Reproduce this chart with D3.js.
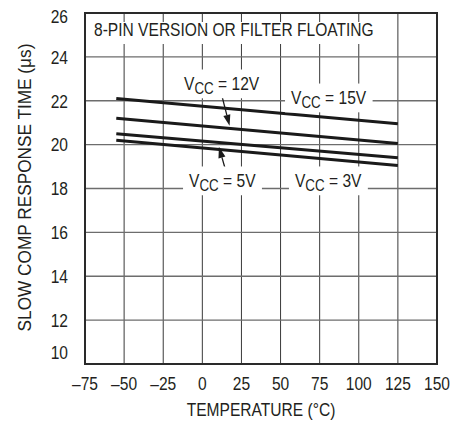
<!DOCTYPE html>
<html><head><meta charset="utf-8">
<script src="https://cdn.jsdelivr.net/npm/d3@7"></script>
<style>
body{margin:0;background:#fff;}
text{font-family:"Liberation Sans Narrow","Liberation Sans",Arial,sans-serif;fill:#231f20;}
</style></head><body>
<svg id="c" width="465" height="423"></svg>
<script>
// ---- data ----
const temps = [-55, 125];
const vcc15 = [22.1, 20.95];
const vcc12 = [21.2, 20.05];
const vcc5  = [20.5, 19.4];
const vcc3  = [20.2, 19.05];
const seriesNames = ["15V", "12V", "5V", "3V"];
const xTicks = [-75, -50, -25, 0, 25, 50, 75, 100, 125, 150];
const yTicks = [10, 12, 14, 16, 18, 20, 22, 24, 26];
const chartTitle = "8-PIN VERSION OR FILTER FLOATING";
const xTitle = "TEMPERATURE (°C)";
const yTitle = "SLOW COMP RESPONSE TIME (μs)";

const svg = d3.select("#c");
const m = {l:85, t:13, r:28, b:59};
const W = 465 - m.l - m.r, H = 423 - m.t - m.b;
const x = d3.scaleLinear().domain([-75,150]).range([m.l, m.l+W]);
const y = d3.scaleLinear().domain([10,26]).range([m.t+H, m.t]);
const FS = 19;
const SX = 0.82; // condensed look

// horizontal condense around an anchor x
function narrowAt(sel, ax, ay){
  sel.attr("transform", `translate(${ax},${ay}) scale(${SX},1)`);
}

// grid
const g = svg.append("g");
g.selectAll(".vg").data(xTicks.slice(1,-1)).join("line")
  .attr("x1",d=>x(d)).attr("x2",d=>x(d)).attr("y1",y(26)).attr("y2",y(10))
  .attr("stroke","#3a3a3a").attr("stroke-width",1);
g.selectAll(".hg").data(yTicks.slice(1,-1)).join("line")
  .attr("x1",x(-75)).attr("x2",x(150)).attr("y1",d=>y(d)).attr("y2",d=>y(d))
  .attr("stroke","#6d6d6d").attr("stroke-width",1.3);

// title with white background
{
  const tg = svg.append("g");
  narrowAt(tg, x(-75)+9, y(26)+23);
  const tt = tg.append("text").attr("x",0).attr("y",0).attr("font-size",FS).text(chartTitle);
  const b = tt.node().getBBox();
  tg.insert("rect","text").attr("x",-6/SX).attr("y",-14).attr("width",b.width+12/SX).attr("height",22).attr("fill","#fff");
}

// data lines
const series = [vcc15, vcc12, vcc5, vcc3];
const line = d3.line().x((d,i)=>x(temps[i])).y(d=>y(d));
svg.selectAll(".ln").data(series).join("path")
  .attr("d", d=>line(d)).attr("fill","none").attr("stroke","#1a1a1a").attr("stroke-width",3);

// arrows (data units)
const arrows = [
  {t0:12.6, v0:22.2, t1:17.4, v1:20.86},
  {t0:14.6, v0:18.9, t1:10.6, v1:19.9}
];
arrows.forEach(a=>{
  const x0=x(a.t0), y0=y(a.v0), x1=x(a.t1), y1=y(a.v1);
  const dx=x1-x0, dy=y1-y0, len=Math.hypot(dx,dy), ux=dx/len, uy=dy/len;
  const hl=11, hw=3.6;
  const bx=x1-ux*hl, by=y1-uy*hl;
  svg.append("line").attr("x1",x0).attr("y1",y0).attr("x2",bx).attr("y2",by)
    .attr("stroke","#1a1a1a").attr("stroke-width",1.3);
  svg.append("path").attr("d",`M${x1},${y1}L${bx-uy*hw},${by+ux*hw}L${bx+uy*hw},${by-ux*hw}Z`).attr("fill","#1a1a1a");
});

// labels (position in data units)
const labels = [
  {name:"12V", t:-11.7, v:22.49},
  {name:"15V", t:56.7, v:21.85},
  {name:"5V", t:-8.5, v:18.07},
  {name:"3V", t:59.2, v:18.07}
];
labels.forEach(L=>{
  const gg = svg.append("g");
  narrowAt(gg, x(L.t), y(L.v));
  const t = gg.append("text").attr("x",0).attr("y",0).attr("font-size",FS);
  t.append("tspan").text("V");
  t.append("tspan").attr("font-size",FS*0.86).attr("dy",4).text("CC");
  t.append("tspan").attr("dy",-4).text(" = " + L.name);
  const b = t.node().getBBox();
  gg.insert("rect","text").attr("x",b.x-6/SX).attr("y",b.y-3).attr("width",b.width+12/SX).attr("height",b.height+4).attr("fill","#fff");
});

// frame
svg.append("rect").attr("x",x(-75)).attr("y",y(26)).attr("width",W).attr("height",H)
  .attr("fill","none").attr("stroke","#2a2a2a").attr("stroke-width",2);

// y tick labels
yTicks.forEach(d=>{
  const gg = svg.append("g");
  narrowAt(gg, x(-75)-17, d===10 ? y(d)-5.5 : d===26 ? y(d)+10 : y(d)+6.8);
  gg.append("text").attr("text-anchor","end").attr("font-size",FS).text(d);
});
// x tick labels
xTicks.forEach(d=>{
  const gg = svg.append("g");
  narrowAt(gg, x(d), y(10)+26);
  gg.append("text").attr("text-anchor","middle").attr("font-size",FS).text(d<0 ? "\u2013"+Math.abs(d) : d);
});

// axis titles
{
  const gg = svg.append("g");
  narrowAt(gg, x(37.5), 416);
  gg.append("text").attr("text-anchor","middle").attr("font-size",FS).text(xTitle);
}
{
  const gg = svg.append("g");
  const t = gg.append("text").attr("text-anchor","middle").attr("font-size",FS).text(yTitle);
  const w = t.node().getComputedTextLength();
  gg.attr("transform",`translate(31,${y(18)-1}) rotate(-90) scale(${288/w},1)`);
}
</script></body></html>
